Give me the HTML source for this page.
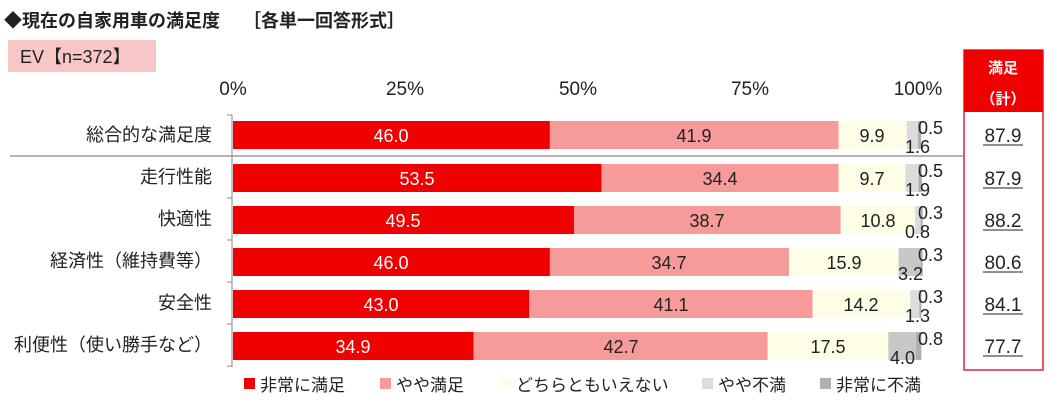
<!DOCTYPE html>
<html><head><meta charset="utf-8"><style>
body{margin:0;background:#fff;}
svg text{font-family:"Liberation Sans","Noto Sans CJK JP",sans-serif;}
</style></head><body>
<svg width="1050" height="405" viewBox="0 0 1050 405" xmlns="http://www.w3.org/2000/svg">
<text x="4" y="27" font-size="18" font-weight="bold" fill="#222">◆現在の自家用車の満足度　 ［各単一回答形式］</text>
<rect x="8" y="40" width="148" height="32" fill="#f8c6c6"/>
<text x="20" y="63" font-size="18" fill="#222">EV【n=372】</text>
<g font-size="19" fill="#222" text-anchor="middle">
<text x="233" y="95">0%</text><text x="405" y="95">25%</text><text x="578" y="95">50%</text><text x="750" y="95">75%</text><text x="918" y="95">100%</text>
</g>
<g>
<rect x="233" y="121" width="316.9" height="28" fill="#f00000"/><rect x="549.9" y="121" width="288.7" height="28" fill="#f69a9a"/><rect x="838.6" y="121" width="68.2" height="28" fill="#fefde6"/><rect x="906.8" y="121" width="11" height="28" fill="#dcdcdc"/><rect x="917.8" y="121" width="3.4" height="28" fill="#b0b0b0"/>
<rect x="233" y="164" width="368.6" height="28" fill="#f00000"/><rect x="601.6" y="164" width="237" height="28" fill="#f69a9a"/><rect x="838.6" y="164" width="66.8" height="28" fill="#fefde6"/><rect x="905.4" y="164" width="13.1" height="28" fill="#dcdcdc"/><rect x="918.5" y="164" width="3.4" height="28" fill="#b0b0b0"/>
<rect x="233" y="206" width="341.1" height="28" fill="#f00000"/><rect x="574.1" y="206" width="266.6" height="28" fill="#f69a9a"/><rect x="840.7" y="206" width="74.4" height="28" fill="#fefde6"/><rect x="915.1" y="206" width="5.5" height="28" fill="#dcdcdc"/><rect x="920.6" y="206" width="2.1" height="28" fill="#b0b0b0"/>
<rect x="233" y="248" width="316.9" height="28" fill="#f00000"/><rect x="549.9" y="248" width="239.1" height="28" fill="#f69a9a"/><rect x="789" y="248" width="109.6" height="28" fill="#fefde6"/><rect x="898.6" y="248" width="22" height="28" fill="#c8c8c8"/><rect x="920.6" y="248" width="2.1" height="28" fill="#b0b0b0"/>
<rect x="233" y="290" width="296.3" height="28" fill="#f00000"/><rect x="529.3" y="290" width="283.2" height="28" fill="#f69a9a"/><rect x="812.5" y="290" width="97.8" height="28" fill="#fefde6"/><rect x="910.3" y="290" width="9" height="28" fill="#dcdcdc"/><rect x="919.3" y="290" width="2.1" height="28" fill="#b0b0b0"/>
<rect x="233" y="332" width="240.5" height="28" fill="#f00000"/><rect x="473.5" y="332" width="294.2" height="28" fill="#f69a9a"/><rect x="767.7" y="332" width="120.6" height="28" fill="#fefde6"/><rect x="888.3" y="332" width="27.6" height="28" fill="#c8c8c8"/><rect x="915.9" y="332" width="5.5" height="28" fill="#b0b0b0"/>
</g>
<g font-size="18" text-anchor="middle" fill="#fff">
<text x="391" y="142">46.0</text><text x="417" y="185">53.5</text><text x="403" y="227">49.5</text><text x="391" y="269">46.0</text><text x="381" y="311">43.0</text><text x="353" y="353">34.9</text>
</g>
<g font-size="18" text-anchor="middle" fill="#222">
<text x="694" y="142">41.9</text><text x="720" y="185">34.4</text><text x="707" y="227">38.7</text><text x="669" y="269">34.7</text><text x="671" y="311">41.1</text><text x="621" y="353">42.7</text>
<text x="872" y="142">9.9</text><text x="872" y="185">9.7</text><text x="878" y="227">10.8</text><text x="844" y="269">15.9</text><text x="861" y="311">14.2</text><text x="828" y="353">17.5</text>
</g>
<g font-size="18" fill="#222">
<text x="918" y="134">0.5</text><text x="905" y="153">1.6</text>
<text x="918" y="177">0.5</text><text x="905" y="196">1.9</text>
<text x="918" y="219">0.3</text><text x="905" y="238">0.8</text>
<text x="918" y="261">0.3</text><text x="898" y="280">3.2</text>
<text x="918" y="303">0.3</text><text x="905" y="322">1.3</text>
<text x="918" y="345">0.8</text><text x="890" y="364">4.0</text>
</g>
<line x1="10" y1="156" x2="963" y2="156" stroke="#888" stroke-width="1.2"/>
<line x1="232" y1="115" x2="232" y2="367" stroke="#888" stroke-width="1"/>
<g stroke="#888" stroke-width="1">
<line x1="227" y1="115" x2="232" y2="115"/><line x1="227" y1="198" x2="232" y2="198"/><line x1="227" y1="240" x2="232" y2="240"/><line x1="227" y1="282" x2="232" y2="282"/><line x1="227" y1="324" x2="232" y2="324"/><line x1="227" y1="366" x2="232" y2="366"/>
</g>
<rect x="964" y="50" width="79" height="320" fill="#fff" stroke="#d23" stroke-width="1.5"/>
<rect x="964" y="50" width="79" height="62" fill="#f00000"/>
<text x="1003" y="73" font-size="15" font-weight="bold" fill="#fff" text-anchor="middle">満足</text>
<text x="1003" y="104" font-size="15" font-weight="bold" fill="#fff" text-anchor="middle">（計）</text>
<g font-size="19" text-anchor="middle" fill="#222">
<text x="1003" y="142">87.9</text><text x="1003" y="185">87.9</text><text x="1003" y="227">88.2</text><text x="1003" y="269">80.6</text><text x="1003" y="311">84.1</text><text x="1003" y="353">77.7</text>
</g>
<g stroke="#222" stroke-width="1">
<line x1="983" y1="145" x2="1023" y2="145"/><line x1="983" y1="188" x2="1023" y2="188"/><line x1="983" y1="230" x2="1023" y2="230"/><line x1="983" y1="272" x2="1023" y2="272"/><line x1="983" y1="314" x2="1023" y2="314"/><line x1="983" y1="356" x2="1023" y2="356"/>
</g>
<g font-size="18" text-anchor="end" fill="#222">
<text x="212" y="141">総合的な満足度</text>
<text x="212" y="183">走行性能</text>
<text x="212" y="225">快適性</text>
<text x="212" y="267">経済性（維持費等）</text>
<text x="212" y="309">安全性</text>
<text x="212" y="351">利便性（使い勝手など）</text>
</g>
<g font-size="17" fill="#222">
<rect x="244" y="378" width="11" height="11" fill="#f00000"/><text x="260" y="391">非常に満足</text>
<rect x="380" y="378" width="11" height="11" fill="#f69a9a"/><text x="396" y="391">やや満足</text>
<rect x="500" y="378" width="11" height="11" fill="#fefde6"/><text x="516" y="391">どちらともいえない</text>
<rect x="702" y="378" width="11" height="11" fill="#dcdcdc"/><text x="718" y="391">やや不満</text>
<rect x="820" y="378" width="11" height="11" fill="#b0b0b0"/><text x="836" y="391">非常に不満</text>
</g>
</svg>
</body></html>
